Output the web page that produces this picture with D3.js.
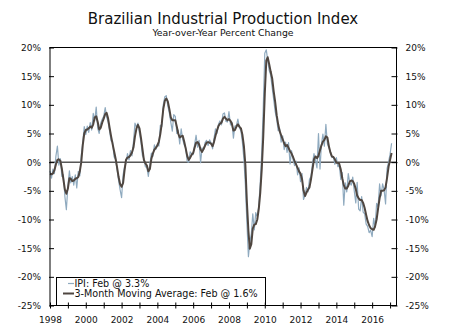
<!DOCTYPE html>
<html>
<head>
<meta charset="utf-8">
<script src="https://cdnjs.cloudflare.com/ajax/libs/d3/7.8.5/d3.min.js"></script>
<style>
  body { margin: 0; background: #fff; }
  svg { display: block; font-family: "DejaVu Sans", Verdana, sans-serif; }
</style>
</head>
<body>
<div id="chart"></div>
<script>
// monthly values, Jan 1998 .. Feb 2017
var startMonth = new Date(1998, 0, 1);

var ipi = [
  -1.5,-2.8,-1.2,-2.0,1.0,2.8,-0.5,0.6,-2.5,-2.2,-6.0,-8.3,
  -4.2,-1.5,-3.6,-2.5,-4.0,-2.2,-4.5,-1.6,-2.4,1.2,3.5,6.2,
  4.8,6.3,5.2,6.9,5.6,8.5,7.2,9.6,5.9,5.0,6.8,7.5,
  8.0,9.5,7.9,7.0,5.4,3.7,3.6,0.9,0.5,-1.3,-3.2,-4.8,
  -6.2,-2.2,-0.8,-0.2,1.5,0.4,2.0,1.1,3.6,6.8,6.1,6.8,
  5.0,3.5,1.2,0.6,-0.8,-0.9,-2.5,-0.4,1.6,1.0,3.0,2.2,
  3.2,2.8,6.4,6.2,10.0,11.4,11.6,9.8,8.6,7.0,5.4,8.3,
  8.0,5.0,5.6,3.2,5.8,4.0,3.0,2.5,0.1,0.0,1.8,1.5,
  1.3,3.2,4.7,2.6,3.8,-0.1,2.5,2.2,3.4,3.8,2.9,3.9,
  3.4,2.3,4.1,5.8,5.0,6.6,7.2,6.5,8.4,8.6,7.1,7.0,
  8.8,6.5,7.0,4.2,6.3,6.4,7.5,6.0,5.5,3.5,0.5,-4.0,
  -10.5,-16.5,-14.0,-12.5,-9.0,-11.8,-8.8,-9.5,-7.6,-3.5,2.0,9.5,
  19.0,19.6,17.8,16.0,15.2,13.0,11.0,8.8,7.5,5.5,5.8,3.5,
  4.6,2.2,3.5,1.7,3.4,-0.3,2.0,0.5,-0.6,0.2,-2.2,-1.0,
  -3.4,-2.0,-6.5,-5.8,-4.4,-5.2,-3.0,-2.5,-0.2,1.5,0.3,-1.0,
  5.0,-1.2,3.0,4.9,2.8,6.6,3.2,2.5,1.8,0.8,0.9,-0.4,
  0.8,-0.8,-0.5,-3.0,-1.8,-7.5,-3.6,-5.2,-2.0,-3.6,-4.0,-2.6,
  -5.0,-7.1,-3.5,-8.2,-8.5,-6.0,-8.7,-9.0,-10.8,-11.2,-12.3,-11.9,
  -13.0,-9.8,-11.4,-7.2,-7.8,-3.8,-5.9,-3.8,-4.8,-7.3,-1.1,0.0,
  1.4,3.3
];

var movingAvg = [
  -2.0,-2.1,-2.0,-1.4,-0.4,0.4,0.5,0.2,-1.2,-3.0,-4.8,-5.5,
  -4.6,-2.8,-2.9,-3.3,-3.2,-2.9,-2.8,-2.6,-1.6,0.0,3.0,5.0,
  5.6,5.7,5.9,6.2,6.0,6.6,7.8,8.0,7.0,5.7,6.0,6.9,
  7.6,8.4,8.6,7.6,6.0,4.5,3.2,1.9,0.6,-0.9,-2.6,-3.8,
  -4.3,-3.6,-1.5,0.4,0.8,0.9,1.2,1.7,2.6,4.5,5.9,6.5,
  5.9,4.2,2.4,0.4,-0.2,-0.6,-1.6,-1.2,0.6,1.5,2.2,2.5,
  2.9,3.6,4.9,6.8,9.3,10.7,11.1,10.6,9.3,7.8,7.3,7.3,
  7.3,6.2,5.0,4.3,4.5,4.6,3.6,2.4,1.1,0.4,0.8,1.3,
  1.6,2.6,3.4,3.5,3.1,2.2,1.8,2.3,2.9,3.4,3.5,3.4,
  3.2,2.8,3.5,4.6,5.5,6.3,6.7,6.9,7.6,7.9,7.6,7.3,
  7.5,7.2,6.7,5.5,5.6,6.2,6.6,6.2,5.9,4.8,2.8,-0.5,
  -7.0,-12.0,-15.1,-14.3,-11.6,-10.9,-10.8,-10.0,-8.1,-5.3,-1.1,4.5,
  11.9,17.7,18.3,17.1,15.8,14.6,12.4,10.5,8.2,6.6,5.4,4.7,
  4.0,3.3,2.8,3.0,2.5,1.9,1.5,0.9,0.2,-0.4,-1.0,-1.6,
  -2.0,-3.0,-4.9,-5.9,-5.3,-4.8,-4.4,-3.0,-1.2,0.5,1.0,0.7,
  1.1,2.1,2.9,3.6,3.9,4.5,4.3,2.8,1.7,1.0,0.9,0.5,
  -0.1,-0.1,-0.3,-1.3,-2.8,-4.0,-4.6,-4.6,-4.1,-3.4,-3.2,-3.3,
  -3.8,-4.7,-5.8,-6.3,-6.6,-6.6,-7.1,-8.0,-9.2,-10.3,-11.0,-11.5,
  -11.7,-11.8,-11.2,-10.0,-8.1,-6.3,-5.0,-5.0,-4.9,-4.4,-2.7,-0.8,
  0.4,1.6
];

var yTicks = [20, 15, 10, 5, 0, -5, -10, -15, -20, -25];
var legendLabels = ["IPI: Feb @ 3.3%", "3-Month Moving Average: Feb @ 1.6%"];
var seriesColors = ['#8faabf', '#4f4640'];

var width = 450, height = 327;
var plotLeft = 50, plotRight = 396.5, plotTop = 47.5, plotBottom = 305.5;

var svg = d3.select('#chart').append('svg')
    .attr('width', width)
    .attr('height', height);

var months = ipi.map(function(d, i) { return d3.timeMonth.offset(startMonth, i); });

var x = d3.scaleTime()
    .domain([startMonth, new Date(2017, 4, 12)])
    .range([plotLeft, plotRight]);

var y = d3.scaleLinear()
    .domain([-25, 20])
    .range([plotBottom, plotTop]);

// titles
svg.append('text')
    .attr('x', 223).attr('y', 23.5)
    .attr('text-anchor', 'middle')
    .attr('font-size', 15)
    .attr('fill', '#111')
    .text('Brazilian Industrial Production Index');

svg.append('text')
    .attr('x', 223).attr('y', 35.5)
    .attr('text-anchor', 'middle')
    .attr('font-size', 9.3)
    .attr('fill', '#111')
    .text('Year-over-Year Percent Change');

// zero line
svg.append('line')
    .attr('x1', plotLeft).attr('x2', plotRight)
    .attr('y1', y(0)).attr('y2', y(0))
    .attr('stroke', '#000').attr('stroke-width', 1);

var line = d3.line()
    .x(function(d, i) { return x(months[i]); })
    .y(function(d) { return y(d); });

svg.append('path')
    .datum(ipi)
    .attr('fill', 'none')
    .attr('stroke', seriesColors[0])
    .attr('stroke-width', 1.2)
    .attr('stroke-linejoin', 'round')
    .attr('d', line);

svg.append('path')
    .datum(movingAvg)
    .attr('fill', 'none')
    .attr('stroke', seriesColors[1])
    .attr('stroke-width', 2)
    .attr('stroke-linejoin', 'round')
    .attr('d', line);

// legend
var legend = svg.append('g');
legend.append('rect')
    .attr('x', 56.5).attr('y', 277.5)
    .attr('width', 209).attr('height', 28)
    .attr('fill', '#fff')
    .attr('stroke', '#000');

var legendWidths = [1.2, 2], legendStart = [68, 63];
legendLabels.forEach(function(lbl, i) {
    var ly = 283.5 + i * 10;
    legend.append('line')
        .attr('x1', legendStart[i]).attr('x2', 74)
        .attr('y1', ly).attr('y2', ly)
        .attr('stroke', seriesColors[i])
        .attr('stroke-width', legendWidths[i]);
    legend.append('text')
        .attr('x', 74.5).attr('y', ly + 3.4)
        .attr('font-size', 9.6)
        .attr('fill', '#111')
        .text(lbl);
});

// frame
svg.append('rect')
    .attr('x', plotLeft).attr('y', plotTop)
    .attr('width', plotRight - plotLeft).attr('height', plotBottom - plotTop)
    .attr('fill', 'none')
    .attr('stroke', '#000')
    .attr('stroke-width', 1);

var yFmt = function(d) { return d + '%'; };

var leftAxis = svg.append('g')
    .attr('transform', 'translate(' + plotLeft + ',0)')
    .call(d3.axisLeft(y).tickValues(yTicks).tickFormat(yFmt).tickSizeOuter(0));
leftAxis.select('.domain').remove();
leftAxis.selectAll('line').attr('x1', -1).attr('x2', 4).attr('stroke', '#000');
leftAxis.selectAll('text')
    .attr('x', -9).attr('dy', '0.35em')
    .attr('font-family', '"DejaVu Sans", Verdana, sans-serif')
    .attr('font-size', 9).attr('fill', '#111');

var rightAxis = svg.append('g')
    .attr('transform', 'translate(' + plotRight + ',0)')
    .call(d3.axisRight(y).tickValues(yTicks).tickFormat(yFmt).tickSizeOuter(0));
rightAxis.select('.domain').remove();
rightAxis.selectAll('line').attr('x1', -5).attr('x2', 1).attr('stroke', '#000');
rightAxis.selectAll('text')
    .attr('x', 9).attr('dy', '0.35em')
    .attr('font-family', '"DejaVu Sans", Verdana, sans-serif')
    .attr('font-size', 9).attr('fill', '#111');

var bottomAxis = svg.append('g')
    .attr('transform', 'translate(0,' + plotBottom + ')')
    .call(d3.axisBottom(x)
        .ticks(d3.timeYear.every(1))
        .tickFormat(function(d) { var yr = d.getFullYear(); return yr % 2 === 0 ? yr : ''; })
        .tickSizeOuter(0));
bottomAxis.select('.domain').remove();
bottomAxis.selectAll('line').attr('y1', -3).attr('y2', 3).attr('stroke', '#000');
bottomAxis.selectAll('text')
    .attr('y', 11).attr('dy', '0.71em')
    .attr('font-family', '"DejaVu Sans", Verdana, sans-serif')
    .attr('font-size', 9).attr('fill', '#111');
</script>
</body>
</html>
